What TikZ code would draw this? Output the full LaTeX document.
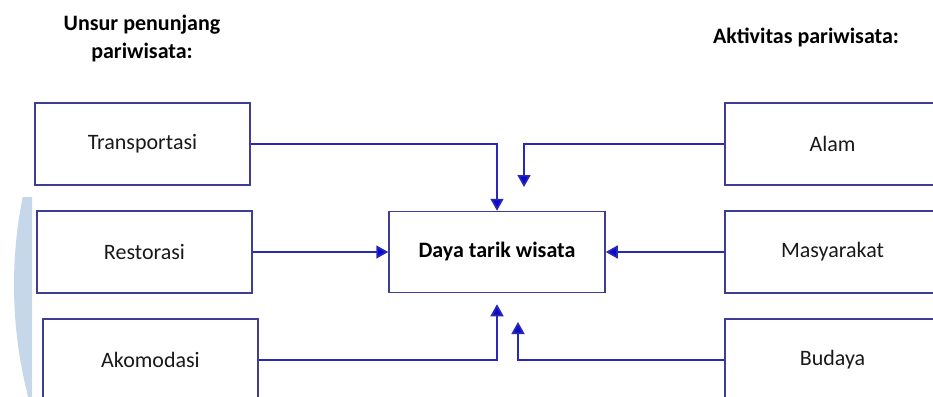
\documentclass[tikz,border=0pt]{standalone}
\usepackage{fontspec}
\setmainfont{Carlito}
\usetikzlibrary{arrows.meta}
\usetikzlibrary{positioning}

\definecolor{boxline}{RGB}{62,62,150}
\definecolor{linkblue}{RGB}{40,40,185}
\definecolor{tipblue}{RGB}{10,10,205}
\definecolor{wmblue}{RGB}{198,215,234}

\tikzset{
 unit/.style={draw=boxline, line width=1.5pt, minimum width=215pt, minimum height=82pt,
   font=\fontsize{22}{26}\selectfont, text=black!90},
 head/.style={font=\bfseries\fontsize{22}{28}\selectfont, align=center, text=black},
 link/.style={linkblue, line width=1.7pt, -{Triangle[length=12pt,width=13pt,fill=tipblue]}},
}

\begin{document}
\begin{tikzpicture}[x=1pt,y=-1pt]
\useasboundingbox (0,0) rectangle (933,396);
% faint ring on the left edge
\begin{scope}
\clip (0,197) rectangle (32,396);
\fill[wmblue] (460,285) circle[radius=446pt];
\end{scope}

\node[head] (ttl) at (142,39) {Unsur penunjang\\pariwisata:};
\node[head] (tta) at (806,37) {Aktivitas pariwisata:};

% supporting elements (left) and activities (right)
\node[unit] (tr) at (142.5,144) {Transportasi};
\node[unit] (re) at (144.5,252) {Restorasi};
\node[unit] (ak) at (150.5,360) {Akomodasi};
\node[unit] (al) at (832.5,144) {Alam};
\node[unit] (ma) at (832.5,252) {Masyarakat};
\node[unit] (bu) at (832.5,360) {Budaya};
\node[unit, minimum width=216pt, minimum height=81pt, text=black,
  font=\bfseries\fontsize{22}{26}\selectfont] (dt) at (497,252) {Daya tarik wisata};

\coordinate (alend) at (524,187);
\coordinate (buend) at (518,322);

\draw[link] (tr.east) -| (dt.north);
\draw[link] (re.east) -- (dt.west);
\draw[link, shorten >=11pt] (ak.east) -| (dt.south);
\draw[link] (al.west) -| (alend);
\draw[link] (ma.west) -- (dt.east);
\draw[link] (bu.west) -| (buend);
\end{tikzpicture}
\end{document}
